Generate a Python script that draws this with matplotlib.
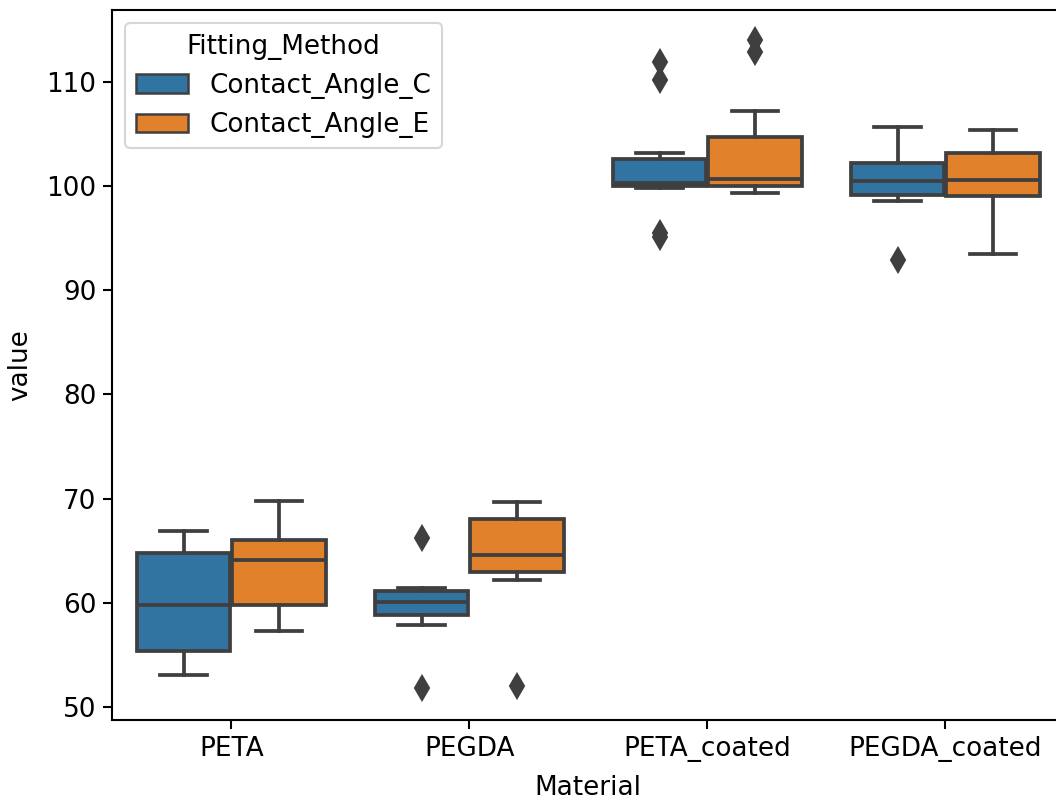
import matplotlib
matplotlib.use("Agg")
import matplotlib.pyplot as plt
from matplotlib.patches import Patch

categories = ["PETA", "PEGDA", "PETA_coated", "PEGDA_coated"]
methods = ["Contact_Angle_C", "Contact_Angle_E"]

# per method, per category: whisker low, q1, median, q3, whisker high, fliers
c_whislo = [53.1, 57.9, 99.8, 98.6]
c_q1 = [55.4, 58.8, 100.0, 99.1]
c_med = [59.8, 60.1, 100.3, 100.5]
c_q3 = [64.8, 61.1, 102.6, 102.2]
c_whishi = [66.9, 61.4, 103.2, 105.7]
c_fliers = [[], [66.2, 51.8], [111.9, 110.2, 95.5, 95.1], [92.9]]

e_whislo = [57.3, 62.2, 99.3, 93.5]
e_q1 = [59.8, 63.0, 100.0, 99.0]
e_med = [64.1, 64.6, 100.7, 100.6]
e_q3 = [66.0, 68.0, 104.7, 103.2]
e_whishi = [69.8, 69.7, 107.2, 105.4]
e_fliers = [[], [52.0], [114.0, 112.9], []]

colors = ["#3274a1", "#e1812c"]
gray = "#3f3f3f"

DPI = 150
FS = 12.6
LW = 1.8
fig = plt.figure(figsize=(1056 / DPI, 800 / DPI), dpi=DPI)
# axes extends slightly beyond the right edge (right spine cropped off)
ax = fig.add_axes([112.3 / 1056, 80 / 800, 952 / 1056, 710 / 800])

series = [
    (c_whislo, c_q1, c_med, c_q3, c_whishi, c_fliers),
    (e_whislo, e_q1, e_med, e_q3, e_whishi, e_fliers),
]
width = 0.4
for h, (wl, q1, md, q3, wh, fl) in enumerate(series):
    stats = []
    for i in range(len(categories)):
        stats.append(dict(whislo=wl[i], q1=q1[i], med=md[i], q3=q3[i],
                          whishi=wh[i], fliers=fl[i]))
    pos = [i - 0.2 + h * 0.4 for i in range(len(categories))]
    ax.bxp(stats, positions=pos, widths=width * 0.98, patch_artist=True,
           manage_ticks=False,
           boxprops=dict(facecolor=colors[h], edgecolor=gray, linewidth=LW),
           medianprops=dict(color=gray, linewidth=LW),
           whiskerprops=dict(color=gray, linewidth=LW),
           capprops=dict(color=gray, linewidth=LW),
           flierprops=dict(marker="d", markerfacecolor=gray, markeredgecolor=gray,
                           markersize=8, linestyle="none"))

ax.set_xlim(-0.5, len(categories) - 0.5)
ax.set_xticks(range(len(categories)))
ax.set_xticklabels(categories)
ax.set_yticks([50, 60, 70, 80, 90, 100, 110])
ax.set_ylim(48.75, 116.9)
ax.tick_params(labelsize=FS, width=1.0, length=4.2)
for s in ax.spines.values():
    s.set_linewidth(1.0)
ax.set_xlabel("Material", fontsize=FS, labelpad=6.4)
ax.set_ylabel("value", fontsize=FS, labelpad=6.0)

handles = [Patch(facecolor=colors[i], edgecolor=gray, linewidth=1.2, label=m)
           for i, m in enumerate(methods)]
ax.legend(handles=handles, title="Fitting_Method", loc="upper left",
          fontsize=FS, title_fontsize=FS)

fig.savefig("out.png", dpi=DPI)
